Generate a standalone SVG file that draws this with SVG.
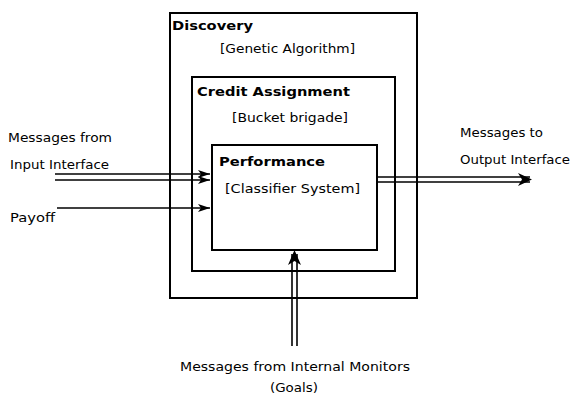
<svg xmlns="http://www.w3.org/2000/svg" width="573" height="399" viewBox="0 0 573 399">
<defs>
<style>
.box{fill:none;stroke:#000;stroke-width:2}
.ln{fill:none;stroke:#000;stroke-width:1.6}
text{font-family:"DejaVu Sans","Liberation Sans",Arial,sans-serif;font-size:13px;fill:#000}
.b{font-weight:bold}
</style>
<marker id="ah" viewBox="0 0 12 8" refX="12" refY="4" markerWidth="12" markerHeight="8" markerUnits="userSpaceOnUse" orient="auto">
<path d="M0,0 L12,4 L0,8 L3,4 Z" fill="#000"/>
</marker>
</defs>
<rect width="573" height="399" fill="#fff"/>
<g id="discovery">
<rect class="box" x="170" y="13" width="247" height="285"/>
<text class="b" x="172" y="30" textLength="81" lengthAdjust="spacingAndGlyphs">Discovery</text>
<text x="220" y="53" textLength="135" lengthAdjust="spacingAndGlyphs">[Genetic Algorithm]</text>
</g>
<g id="credit">
<rect class="box" x="192" y="77" width="203" height="194"/>
<text class="b" x="197" y="96" textLength="153" lengthAdjust="spacingAndGlyphs">Credit Assignment</text>
<text x="232" y="122" textLength="116" lengthAdjust="spacingAndGlyphs">[Bucket brigade]</text>
</g>
<g id="performance">
<rect class="box" x="212" y="145" width="165" height="105"/>
<text class="b" x="219" y="166" textLength="106" lengthAdjust="spacingAndGlyphs">Performance</text>
<text x="225" y="193" textLength="135" lengthAdjust="spacingAndGlyphs">[Classifier System]</text>
</g>
<g id="labels">
<text x="8" y="142" textLength="104" lengthAdjust="spacingAndGlyphs">Messages from</text>
<text x="10" y="169" textLength="99" lengthAdjust="spacingAndGlyphs">Input Interface</text>
<text x="10" y="222" textLength="45" lengthAdjust="spacingAndGlyphs">Payoff</text>
<text x="460" y="137" textLength="83" lengthAdjust="spacingAndGlyphs">Messages to</text>
<text x="460" y="164" textLength="110" lengthAdjust="spacingAndGlyphs">Output Interface</text>
<text x="180" y="371" textLength="230" lengthAdjust="spacingAndGlyphs">Messages from Internal Monitors</text>
<text x="270" y="392" textLength="48" lengthAdjust="spacingAndGlyphs">(Goals)</text>
</g>
<g id="connectors">
<line class="ln" x1="55" y1="174" x2="210" y2="174" marker-end="url(#ah)"/>
<line class="ln" x1="55" y1="180" x2="210" y2="180" marker-end="url(#ah)"/>
<line class="ln" x1="57" y1="208" x2="210" y2="208" marker-end="url(#ah)"/>
<line class="ln" x1="377" y1="177" x2="530" y2="177"/>
<line class="ln" x1="377" y1="182" x2="530" y2="182"/>
<path d="M518,173 L532,179.5 L518,186 L522,179.5 Z" fill="#000"/>
<line class="ln" x1="292" y1="346" x2="292" y2="254"/>
<line class="ln" x1="297" y1="346" x2="297" y2="254"/>
<path d="M288,265 L294.5,250 L301,265 L294.5,261 Z" fill="#000"/>
</g>
</svg>
